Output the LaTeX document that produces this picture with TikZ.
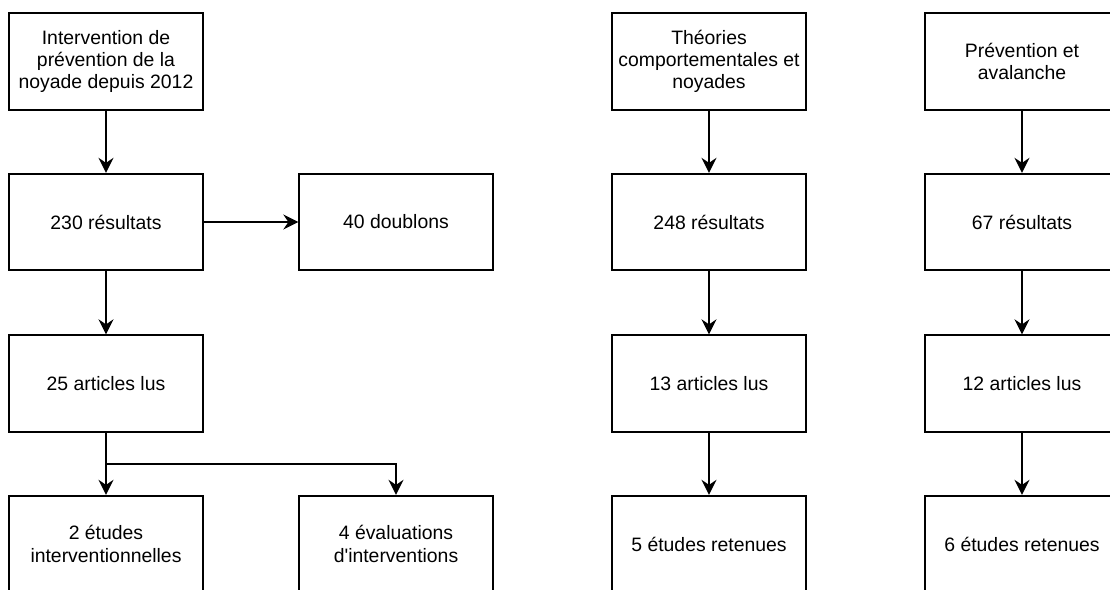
\documentclass[tikz,border=0pt]{standalone}
\usepackage{fontspec}
\setmainfont{Liberation Sans}
\usetikzlibrary{arrows.meta}
\begin{document}
\begin{tikzpicture}[x=1pt,y=-1pt,
  box/.style={draw=black,line width=1.8pt,minimum width=193.5pt,minimum height=96.5pt,
    inner sep=0pt,align=center,font=\fontsize{19.4}{22.3}\selectfont},
  arr/.style={draw=black,line width=1.8pt,-{Stealth[length=15pt,width=15pt,inset=5pt]}}]
\useasboundingbox (0,0) rectangle (1110,589);
\clip (0,0) rectangle (1110,589);
% column 1
\node[box] (a1) at (106,61.5) {Intervention de\\prévention de la\\noyade depuis 2012};
\node[box] (a2) at (106,222) {230 résultats};
\node[box] (b2) at (396,222) {40 doublons};
\node[box] (a3) at (106,383.5) {25 articles lus};
\node[box] (a4) at (106,544) {2 études\\interventionnelles};
\node[box] (b4) at (396,544) {4 évaluations\\d\textquotesingle interventions};
% column 3
\node[box] (c1) at (709,61.5) {Théories\\comportementales et\\noyades};
\node[box] (c2) at (709,222) {248 résultats};
\node[box] (c3) at (709,383.5) {13 articles lus};
\node[box] (c4) at (709,544) {5 études retenues};
% column 4
\node[box] (d1) at (1022,61.5) {Prévention et\\avalanche};
\node[box] (d2) at (1022,222) {67 résultats};
\node[box] (d3) at (1022,383.5) {12 articles lus};
\node[box] (d4) at (1022,544) {6 études retenues};
% connectors
\draw[arr] (a1) -- (a2);
\draw[arr] (a2) -- (b2);
\draw[arr] (a2) -- (a3);
\draw[arr] (a3) -- (a4);
\coordinate (split) at (106,464);
\draw[arr] (a3.south) -- (split) -| (b4.north);
\draw[arr] (c1) -- (c2);
\draw[arr] (c2) -- (c3);
\draw[arr] (c3) -- (c4);
\draw[arr] (d1) -- (d2);
\draw[arr] (d2) -- (d3);
\draw[arr] (d3) -- (d4);
\end{tikzpicture}
\end{document}
